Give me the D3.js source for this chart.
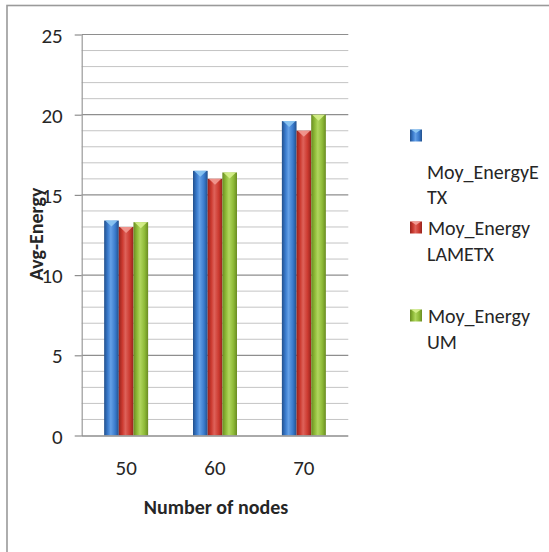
<!DOCTYPE html>
<html>
<head>
<meta charset="utf-8">
<script src="https://cdn.jsdelivr.net/npm/d3@7"></script>
<style>
  html, body { margin: 0; padding: 0; background: #fff; }
  svg { display: block; }
  text { font-family: Carlito, "Liberation Sans Narrow", "Open Sans", sans-serif; fill: #262626; }
</style>
</head>
<body>
<svg id="chart" width="549" height="552"></svg>
<script>
// Node counts on the x axis
const categories = ["50", "60", "70"];
// Average energy per routing protocol
const seriesNames = ["Moy_EnergyETX", "Moy_EnergyLAMETX", "Moy_EnergyUM"];
const energyETX = [13.4, 16.5, 19.6];
const energyLAMETX = [13.0, 16.0, 19.0];
const energyUM = [13.3, 16.4, 20.0];
// Axis ticks
const yTickValues = [0, 5, 10, 15, 20, 25];
// Legend text as it wraps in the legend box
const legendLines = [["Moy_EnergyE", "TX"], ["Moy_Energy", "LAMETX"], ["Moy_Energy", "UM"]];

const seriesValues = [energyETX, energyLAMETX, energyUM];
const palette = [
  { dark: "#22508c", mid: "#3a7bcd", light: "#64a0e6", cap: "#8cc6f2" },
  { dark: "#96231d", mid: "#cc3a30", light: "#de625a", cap: "#f29a92" },
  { dark: "#6a8c22", mid: "#8fbb38", light: "#b0d65e", cap: "#d6f08c" }
];

const svg = d3.select("#chart");

// Chart frame (only top and left edges fall inside the view)
svg.append("rect")
  .attr("x", 7).attr("y", 5.5).attr("width", 600).attr("height", 600)
  .attr("fill", "#fff").attr("stroke", "#9a9a9a").attr("stroke-width", 1.6);

const plot = { left: 81.7, right: 348.3, top: 34.5, bottom: 435.5 };

const y = d3.scaleLinear().domain([0, 25]).range([plot.bottom, plot.top]);
const x0 = d3.scaleBand().domain(categories).range([plot.left, plot.right])
  .paddingInner(0.505).paddingOuter(0.2525);
const x1 = d3.scaleBand().domain(seriesNames).range([0, x0.bandwidth()]);

// Gradients giving the bars a rounded look
const defs = svg.append("defs");
palette.forEach((c, i) => {
  const g = defs.append("linearGradient").attr("id", "bar" + i)
    .attr("x1", "0%").attr("x2", "100%").attr("y1", "0%").attr("y2", "0%");
  g.append("stop").attr("offset", "0%").attr("stop-color", c.dark);
  g.append("stop").attr("offset", "25%").attr("stop-color", c.mid);
  g.append("stop").attr("offset", "45%").attr("stop-color", c.light);
  g.append("stop").attr("offset", "75%").attr("stop-color", c.mid);
  g.append("stop").attr("offset", "100%").attr("stop-color", c.dark);
});

// Minor gridlines every unit
const minor = d3.range(1, 25).filter(v => v % 5 !== 0);
svg.append("g").selectAll("line").data(minor).join("line")
  .attr("x1", plot.left).attr("x2", plot.right)
  .attr("y1", d => y(d)).attr("y2", d => y(d))
  .attr("stroke", "#c4c4c4").attr("stroke-width", 1);

// Major gridlines
svg.append("g").selectAll("line").data(yTickValues.filter(v => v > 0)).join("line")
  .attr("x1", plot.left).attr("x2", plot.right)
  .attr("y1", d => y(d)).attr("y2", d => y(d))
  .attr("stroke", "#8e8e8e").attr("stroke-width", 1.2);

// Y axis
const yAxis = svg.append("g").attr("transform", `translate(${plot.left},0)`)
  .call(d3.axisLeft(y).tickValues(yTickValues).tickSize(7).tickPadding(12).tickSizeOuter(0));
yAxis.attr("font-family", null);
yAxis.select(".domain").attr("stroke", "#9a9a9a").attr("stroke-width", 1.2);
yAxis.selectAll(".tick line").attr("stroke", "#8e8e8e").attr("stroke-width", 1.2);
yAxis.selectAll(".tick text").attr("font-size", 21).attr("fill", "#262626").attr("dy", "0.36em");

// Bars
const groups = svg.append("g").selectAll("g").data(categories).join("g")
  .attr("transform", d => `translate(${x0(d)},0)`);

groups.each(function (cat, ci) {
  const g = d3.select(this);
  seriesNames.forEach((s, si) => {
    const v = seriesValues[si][ci];
    const bx = x1(s), bw = x1.bandwidth(), top = y(v);
    g.append("rect")
      .attr("x", bx).attr("y", top).attr("width", bw).attr("height", y(0) - top)
      .attr("fill", `url(#bar${si})`);
    // Bevelled cap
    g.append("path")
      .attr("d", `M${bx + 1},${top} L${bx + bw - 1},${top} L${bx + bw / 2},${top + 6} Z`)
      .attr("fill", palette[si].cap).attr("opacity", 0.9);
  });
});

// X axis
const xAxis = svg.append("g").attr("transform", `translate(0,${plot.bottom})`)
  .call(d3.axisBottom(x0).tickSize(0).tickPadding(25).tickSizeOuter(0));
xAxis.attr("font-family", null);
xAxis.select(".domain").attr("stroke", "#8e8e8e").attr("stroke-width", 1.4)
  .attr("d", `M${plot.left},0.5H${plot.right}`);
xAxis.selectAll(".tick text").attr("font-size", 21).attr("fill", "#262626");

// Axis titles
svg.append("text")
  .attr("x", (plot.left + plot.right) / 2 + 1).attr("y", 514)
  .attr("text-anchor", "middle").attr("font-size", 20).attr("font-weight", "bold")
  .text("Number of nodes");

svg.append("text")
  .attr("transform", "translate(43,234) rotate(-90)")
  .attr("text-anchor", "middle").attr("font-size", 20).attr("font-weight", "bold")
  .text("Avg-Energy");

// Legend
const legendY = [[136, 179, 204], [228, 235, 261], [316, 323, 349]];
const legend = svg.append("g");
seriesNames.forEach((s, i) => {
  const c = palette[i];
  const pos = legendY[i];
  legend.append("rect")
    .attr("x", 410).attr("y", pos[0] - 6.5).attr("width", 12).attr("height", 12)
    .attr("fill", `url(#bar${i})`);
  legend.append("path")
    .attr("d", `M411,${pos[0] - 6.5} L421,${pos[0] - 6.5} L416,${pos[0] - 3} Z`)
    .attr("fill", c.cap);
  legendLines[i].forEach((line, li) => {
    legend.append("text")
      .attr("x", li === 0 && i > 0 ? 428 : 427)
      .attr("y", pos[1 + li])
      .attr("font-size", 20)
      .text(line);
  });
});
</script>
</body>
</html>
